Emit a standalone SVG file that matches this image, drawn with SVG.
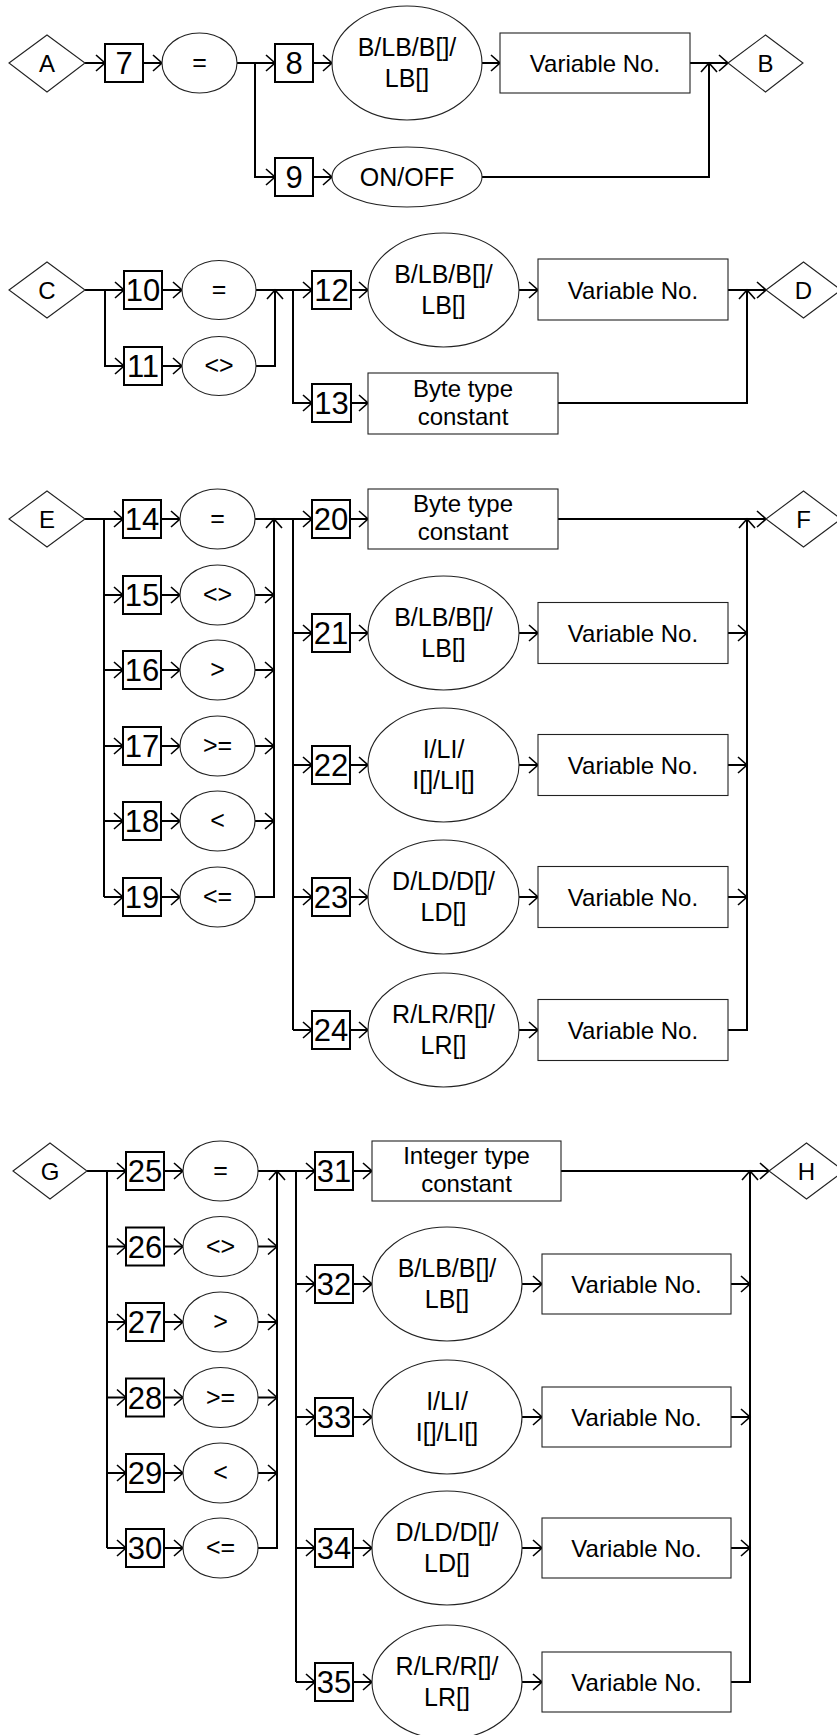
<svg xmlns="http://www.w3.org/2000/svg" width="837" height="1735" viewBox="0 0 837 1735">
<style>
.c{fill:none;stroke:#000;stroke-width:2;marker-end:url(#a)}
.l{fill:none;stroke:#000;stroke-width:2}
.nb{fill:#fff;stroke:#000;stroke-width:2}
.sh{fill:#fff;stroke:#222;stroke-width:1.1}
.num{font-family:"Liberation Sans",Arial,sans-serif;font-size:31px;text-anchor:middle;fill:#000}
.t{font-family:"Liberation Sans",Arial,sans-serif;font-size:24px;text-anchor:middle;fill:#000}
.te{font-family:"Liberation Sans",Arial,sans-serif;font-size:25px;text-anchor:middle;fill:#000}
</style>
<defs>
<marker id="a" markerUnits="userSpaceOnUse" viewBox="-11 -10 13 20" markerWidth="13" markerHeight="20" refX="0" refY="0" orient="auto">
<path d="M-9,-8 L0,0 L-9,8" fill="none" stroke="#000" stroke-width="1.6"/>
</marker>
</defs>
<rect width="837" height="1735" fill="#fff"/>

<g id="connectors">
<!-- section 1 -->
<path class="c" d="M85,63 H105"/>
<path class="c" d="M143,63 H162"/>
<path class="c" d="M237,63 H275"/>
<path class="c" d="M255,63 V177 H275"/>
<path class="c" d="M313,63 H332"/>
<path class="c" d="M313,177 H332"/>
<path class="c" d="M482,63 H500"/>
<path class="c" d="M690,63 H728"/>
<path class="c" d="M482,177 H709 V63"/>
<!-- section 2 -->
<path class="c" d="M85,290 H124"/>
<path class="c" d="M105,290 V366 H124"/>
<path class="c" d="M162,290 H182"/>
<path class="c" d="M162,366 H182"/>
<path class="c" d="M256,290 H312"/>
<path class="c" d="M256,366 H275 V290"/>
<path class="c" d="M293,290 V403 H312"/>
<path class="c" d="M351,290 H368"/>
<path class="c" d="M351,403 H368"/>
<path class="c" d="M519,290 H538"/>
<path class="c" d="M728,290 H766"/>
<path class="c" d="M558,403 H747 V290"/>
<!-- section 3 -->
<path class="c" d="M85,519 H123"/>
<path class="l" d="M104,519 V897"/>
<path class="c" d="M104,595 H123"/>
<path class="c" d="M104,670 H123"/>
<path class="c" d="M104,746 H123"/>
<path class="c" d="M104,821 H123"/>
<path class="c" d="M104,897 H123"/>
<path class="c" d="M161,519 H180"/>
<path class="c" d="M161,595 H180"/>
<path class="c" d="M161,670 H180"/>
<path class="c" d="M161,746 H180"/>
<path class="c" d="M161,821 H180"/>
<path class="c" d="M161,897 H180"/>
<path class="c" d="M255,519 H312"/>
<path class="c" d="M255,595 H274"/>
<path class="c" d="M255,670 H274"/>
<path class="c" d="M255,746 H274"/>
<path class="c" d="M255,821 H274"/>
<path class="c" d="M255,897 H274 V519"/>
<path class="l" d="M293,519 V1030"/>
<path class="c" d="M293,633 H312"/>
<path class="c" d="M293,765 H312"/>
<path class="c" d="M293,897 H312"/>
<path class="c" d="M293,1030 H312"/>
<path class="c" d="M350,519 H368"/>
<path class="c" d="M350,633 H368"/>
<path class="c" d="M350,765 H368"/>
<path class="c" d="M350,897 H368"/>
<path class="c" d="M350,1030 H368"/>
<path class="c" d="M558,519 H766"/>
<path class="c" d="M519,633 H538"/>
<path class="c" d="M519,765 H538"/>
<path class="c" d="M519,897 H538"/>
<path class="c" d="M519,1030 H538"/>
<path class="c" d="M728,633 H747"/>
<path class="c" d="M728,765 H747"/>
<path class="c" d="M728,897 H747"/>
<path class="c" d="M728,1030 H747 V519"/>
<!-- section 4 -->
<path class="c" d="M87,1171 H126"/>
<path class="l" d="M107,1171 V1548"/>
<path class="c" d="M107,1246.5 H126"/>
<path class="c" d="M107,1322 H126"/>
<path class="c" d="M107,1397.5 H126"/>
<path class="c" d="M107,1473 H126"/>
<path class="c" d="M107,1548 H126"/>
<path class="c" d="M164,1171 H183"/>
<path class="c" d="M164,1246.5 H183"/>
<path class="c" d="M164,1322 H183"/>
<path class="c" d="M164,1397.5 H183"/>
<path class="c" d="M164,1473 H183"/>
<path class="c" d="M164,1548 H183"/>
<path class="c" d="M258,1171 H315"/>
<path class="c" d="M258,1246.5 H277"/>
<path class="c" d="M258,1322 H277"/>
<path class="c" d="M258,1397.5 H277"/>
<path class="c" d="M258,1473 H277"/>
<path class="c" d="M258,1548 H277 V1171"/>
<path class="l" d="M296,1171 V1682"/>
<path class="c" d="M296,1284 H315"/>
<path class="c" d="M296,1417 H315"/>
<path class="c" d="M296,1548 H315"/>
<path class="c" d="M296,1682 H315"/>
<path class="c" d="M353,1171 H372"/>
<path class="c" d="M353,1284 H372"/>
<path class="c" d="M353,1417 H372"/>
<path class="c" d="M353,1548 H372"/>
<path class="c" d="M353,1682 H372"/>
<path class="c" d="M561,1171 H769"/>
<path class="c" d="M522,1284 H542"/>
<path class="c" d="M522,1417 H542"/>
<path class="c" d="M522,1548 H542"/>
<path class="c" d="M522,1682 H542"/>
<path class="c" d="M731,1284 H750"/>
<path class="c" d="M731,1417 H750"/>
<path class="c" d="M731,1548 H750"/>
<path class="c" d="M731,1682 H750 V1171"/>
</g>

<!-- Section 1 -->
<g id="nA"><polygon class="sh" points="9,63 47,35 85,63 47,92"/><text class="t" x="47" y="72">A</text></g>
<g id="n7"><rect class="nb" x="105" y="44" width="38" height="38"/><text class="num" x="124" y="74">7</text></g>
<g id="e1"><ellipse class="sh" cx="199.5" cy="63" rx="37.5" ry="30"/><text class="te" x="199.5" y="71">=</text></g>
<g id="n8"><rect class="nb" x="275" y="44" width="38" height="38"/><text class="num" x="294" y="74">8</text></g>
<g id="n9"><rect class="nb" x="275" y="158" width="38" height="38"/><text class="num" x="294" y="188">9</text></g>
<g id="v1"><ellipse class="sh" cx="407" cy="63" rx="75" ry="57"/><text class="te" x="407" y="56">B/LB/B[]/</text><text class="te" x="407" y="87">LB[]</text></g>
<g id="onoff"><ellipse class="sh" cx="407" cy="177" rx="75" ry="30"/><text class="te" x="407" y="186">ON/OFF</text></g>
<g id="r1"><rect class="sh" x="500" y="33" width="190" height="60"/><text class="t" x="595" y="72">Variable No.</text></g>
<g id="nB"><polygon class="sh" points="728,63 765.5,35 803,63 765.5,92"/><text class="t" x="765.5" y="72">B</text></g>

<!-- Section 2 -->
<g id="nC"><polygon class="sh" points="9,290 47,262 85,290 47,318"/><text class="t" x="47" y="299">C</text></g>
<g id="n10"><rect class="nb" x="124" y="271" width="38" height="38"/><text class="num" x="143" y="301">10</text></g>
<g id="n11"><rect class="nb" x="124" y="347" width="38" height="38"/><text class="num" x="143" y="377">11</text></g>
<g id="e10"><ellipse class="sh" cx="219" cy="290" rx="37" ry="29.5"/><text class="te" x="219" y="298">=</text></g>
<g id="e11"><ellipse class="sh" cx="219" cy="366" rx="37" ry="29.5"/><text class="te" x="219" y="374">&lt;&gt;</text></g>
<g id="n12"><rect class="nb" x="312" y="271" width="39" height="38"/><text class="num" x="331.5" y="301">12</text></g>
<g id="n13"><rect class="nb" x="312" y="384" width="39" height="38"/><text class="num" x="331.5" y="414">13</text></g>
<g id="v12"><ellipse class="sh" cx="443.5" cy="290" rx="75.5" ry="57"/><text class="te" x="443.5" y="283">B/LB/B[]/</text><text class="te" x="443.5" y="314">LB[]</text></g>
<g id="r12"><rect class="sh" x="538" y="259" width="190" height="61"/><text class="t" x="633" y="299">Variable No.</text></g>
<g id="r13"><rect class="sh" x="368" y="373" width="190" height="61"/><text class="t" x="463" y="397">Byte type</text><text class="t" x="463" y="425">constant</text></g>
<g id="nD"><polygon class="sh" points="766,290 803.5,262 841,290 803.5,318"/><text class="t" x="803.5" y="299">D</text></g>

<!-- Section 3 -->
<g id="nE"><polygon class="sh" points="9,519 47,491 85,519 47,547"/><text class="t" x="47" y="528">E</text></g>
<g id="n14"><rect class="nb" x="123" y="500" width="38" height="38"/><text class="num" x="142" y="530">14</text></g>
<g id="n15"><rect class="nb" x="123" y="576" width="38" height="38"/><text class="num" x="142" y="606">15</text></g>
<g id="n16"><rect class="nb" x="123" y="651" width="38" height="38"/><text class="num" x="142" y="681">16</text></g>
<g id="n17"><rect class="nb" x="123" y="727" width="38" height="38"/><text class="num" x="142" y="757">17</text></g>
<g id="n18"><rect class="nb" x="123" y="802" width="38" height="38"/><text class="num" x="142" y="832">18</text></g>
<g id="n19"><rect class="nb" x="123" y="878" width="38" height="38"/><text class="num" x="142" y="908">19</text></g>
<g id="e14"><ellipse class="sh" cx="217.5" cy="519" rx="37.5" ry="30"/><text class="te" x="217.5" y="527">=</text></g>
<g id="e15"><ellipse class="sh" cx="217.5" cy="595" rx="37.5" ry="30"/><text class="te" x="217.5" y="603">&lt;&gt;</text></g>
<g id="e16"><ellipse class="sh" cx="217.5" cy="670" rx="37.5" ry="30"/><text class="te" x="217.5" y="678">&gt;</text></g>
<g id="e17"><ellipse class="sh" cx="217.5" cy="746" rx="37.5" ry="30"/><text class="te" x="217.5" y="754">&gt;=</text></g>
<g id="e18"><ellipse class="sh" cx="217.5" cy="821" rx="37.5" ry="30"/><text class="te" x="217.5" y="829">&lt;</text></g>
<g id="e19"><ellipse class="sh" cx="217.5" cy="897" rx="37.5" ry="30"/><text class="te" x="217.5" y="905">&lt;=</text></g>
<g id="n20"><rect class="nb" x="312" y="500" width="38" height="38"/><text class="num" x="331" y="530">20</text></g>
<g id="n21"><rect class="nb" x="312" y="614" width="38" height="38"/><text class="num" x="331" y="644">21</text></g>
<g id="n22"><rect class="nb" x="312" y="746" width="38" height="38"/><text class="num" x="331" y="776">22</text></g>
<g id="n23"><rect class="nb" x="312" y="878" width="38" height="38"/><text class="num" x="331" y="908">23</text></g>
<g id="n24"><rect class="nb" x="312" y="1011" width="38" height="38"/><text class="num" x="331" y="1041">24</text></g>
<g id="r20"><rect class="sh" x="368" y="489" width="190" height="60"/><text class="t" x="463" y="512">Byte type</text><text class="t" x="463" y="540">constant</text></g>
<g id="v21"><ellipse class="sh" cx="443.5" cy="633" rx="75.5" ry="57"/><text class="te" x="443.5" y="626">B/LB/B[]/</text><text class="te" x="443.5" y="657">LB[]</text></g>
<g id="v22"><ellipse class="sh" cx="443.5" cy="765" rx="75.5" ry="57"/><text class="te" x="443.5" y="758">I/LI/</text><text class="te" x="443.5" y="789">I[]/LI[]</text></g>
<g id="v23"><ellipse class="sh" cx="443.5" cy="897" rx="75.5" ry="57"/><text class="te" x="443.5" y="890">D/LD/D[]/</text><text class="te" x="443.5" y="921">LD[]</text></g>
<g id="v24"><ellipse class="sh" cx="443.5" cy="1030" rx="75.5" ry="57"/><text class="te" x="443.5" y="1023">R/LR/R[]/</text><text class="te" x="443.5" y="1054">LR[]</text></g>
<g id="r21"><rect class="sh" x="538" y="602.5" width="190" height="61"/><text class="t" x="633" y="642">Variable No.</text></g>
<g id="r22"><rect class="sh" x="538" y="734.5" width="190" height="61"/><text class="t" x="633" y="774">Variable No.</text></g>
<g id="r23"><rect class="sh" x="538" y="866.5" width="190" height="61"/><text class="t" x="633" y="906">Variable No.</text></g>
<g id="r24"><rect class="sh" x="538" y="999.5" width="190" height="61"/><text class="t" x="633" y="1039">Variable No.</text></g>
<g id="nF"><polygon class="sh" points="766,519 803.5,491 841,519 803.5,547"/><text class="t" x="803.5" y="528">F</text></g>

<!-- Section 4 -->
<g id="nG"><polygon class="sh" points="13,1171 50,1143 87,1171 50,1199"/><text class="t" x="50" y="1180">G</text></g>
<g id="n25"><rect class="nb" x="126" y="1152" width="38" height="38"/><text class="num" x="145" y="1182">25</text></g>
<g id="n26"><rect class="nb" x="126" y="1227.5" width="38" height="38"/><text class="num" x="145" y="1257.5">26</text></g>
<g id="n27"><rect class="nb" x="126" y="1303" width="38" height="38"/><text class="num" x="145" y="1333">27</text></g>
<g id="n28"><rect class="nb" x="126" y="1378.5" width="38" height="38"/><text class="num" x="145" y="1408.5">28</text></g>
<g id="n29"><rect class="nb" x="126" y="1454" width="38" height="38"/><text class="num" x="145" y="1484">29</text></g>
<g id="n30"><rect class="nb" x="126" y="1529" width="38" height="38"/><text class="num" x="145" y="1559">30</text></g>
<g id="e25"><ellipse class="sh" cx="220.5" cy="1171" rx="37.5" ry="30"/><text class="te" x="220.5" y="1179">=</text></g>
<g id="e26"><ellipse class="sh" cx="220.5" cy="1246.5" rx="37.5" ry="30"/><text class="te" x="220.5" y="1254.5">&lt;&gt;</text></g>
<g id="e27"><ellipse class="sh" cx="220.5" cy="1322" rx="37.5" ry="30"/><text class="te" x="220.5" y="1330">&gt;</text></g>
<g id="e28"><ellipse class="sh" cx="220.5" cy="1397.5" rx="37.5" ry="30"/><text class="te" x="220.5" y="1405.5">&gt;=</text></g>
<g id="e29"><ellipse class="sh" cx="220.5" cy="1473" rx="37.5" ry="30"/><text class="te" x="220.5" y="1481">&lt;</text></g>
<g id="e30"><ellipse class="sh" cx="220.5" cy="1548" rx="37.5" ry="30"/><text class="te" x="220.5" y="1556">&lt;=</text></g>
<g id="n31"><rect class="nb" x="315" y="1152" width="38" height="38"/><text class="num" x="334" y="1182">31</text></g>
<g id="n32"><rect class="nb" x="315" y="1265" width="38" height="38"/><text class="num" x="334" y="1295">32</text></g>
<g id="n33"><rect class="nb" x="315" y="1398" width="38" height="38"/><text class="num" x="334" y="1428">33</text></g>
<g id="n34"><rect class="nb" x="315" y="1529" width="38" height="38"/><text class="num" x="334" y="1559">34</text></g>
<g id="n35"><rect class="nb" x="315" y="1663" width="38" height="38"/><text class="num" x="334" y="1693">35</text></g>
<g id="r31"><rect class="sh" x="372" y="1141" width="189" height="60"/><text class="t" x="466.5" y="1164">Integer type</text><text class="t" x="466.5" y="1192">constant</text></g>
<g id="v32"><ellipse class="sh" cx="447" cy="1284" rx="75" ry="57"/><text class="te" x="447" y="1277">B/LB/B[]/</text><text class="te" x="447" y="1308">LB[]</text></g>
<g id="v33"><ellipse class="sh" cx="447" cy="1417" rx="75" ry="57"/><text class="te" x="447" y="1410">I/LI/</text><text class="te" x="447" y="1441">I[]/LI[]</text></g>
<g id="v34"><ellipse class="sh" cx="447" cy="1548" rx="75" ry="57"/><text class="te" x="447" y="1541">D/LD/D[]/</text><text class="te" x="447" y="1572">LD[]</text></g>
<g id="v35"><ellipse class="sh" cx="447" cy="1682" rx="75" ry="57"/><text class="te" x="447" y="1675">R/LR/R[]/</text><text class="te" x="447" y="1706">LR[]</text></g>
<g id="r32"><rect class="sh" x="542" y="1254" width="189" height="60"/><text class="t" x="636.5" y="1293">Variable No.</text></g>
<g id="r33"><rect class="sh" x="542" y="1387" width="189" height="60"/><text class="t" x="636.5" y="1426">Variable No.</text></g>
<g id="r34"><rect class="sh" x="542" y="1518" width="189" height="60"/><text class="t" x="636.5" y="1557">Variable No.</text></g>
<g id="r35"><rect class="sh" x="542" y="1652" width="189" height="60"/><text class="t" x="636.5" y="1691">Variable No.</text></g>
<g id="nH"><polygon class="sh" points="769,1171 806.5,1143 844,1171 806.5,1199"/><text class="t" x="806.5" y="1180">H</text></g>
</svg>
